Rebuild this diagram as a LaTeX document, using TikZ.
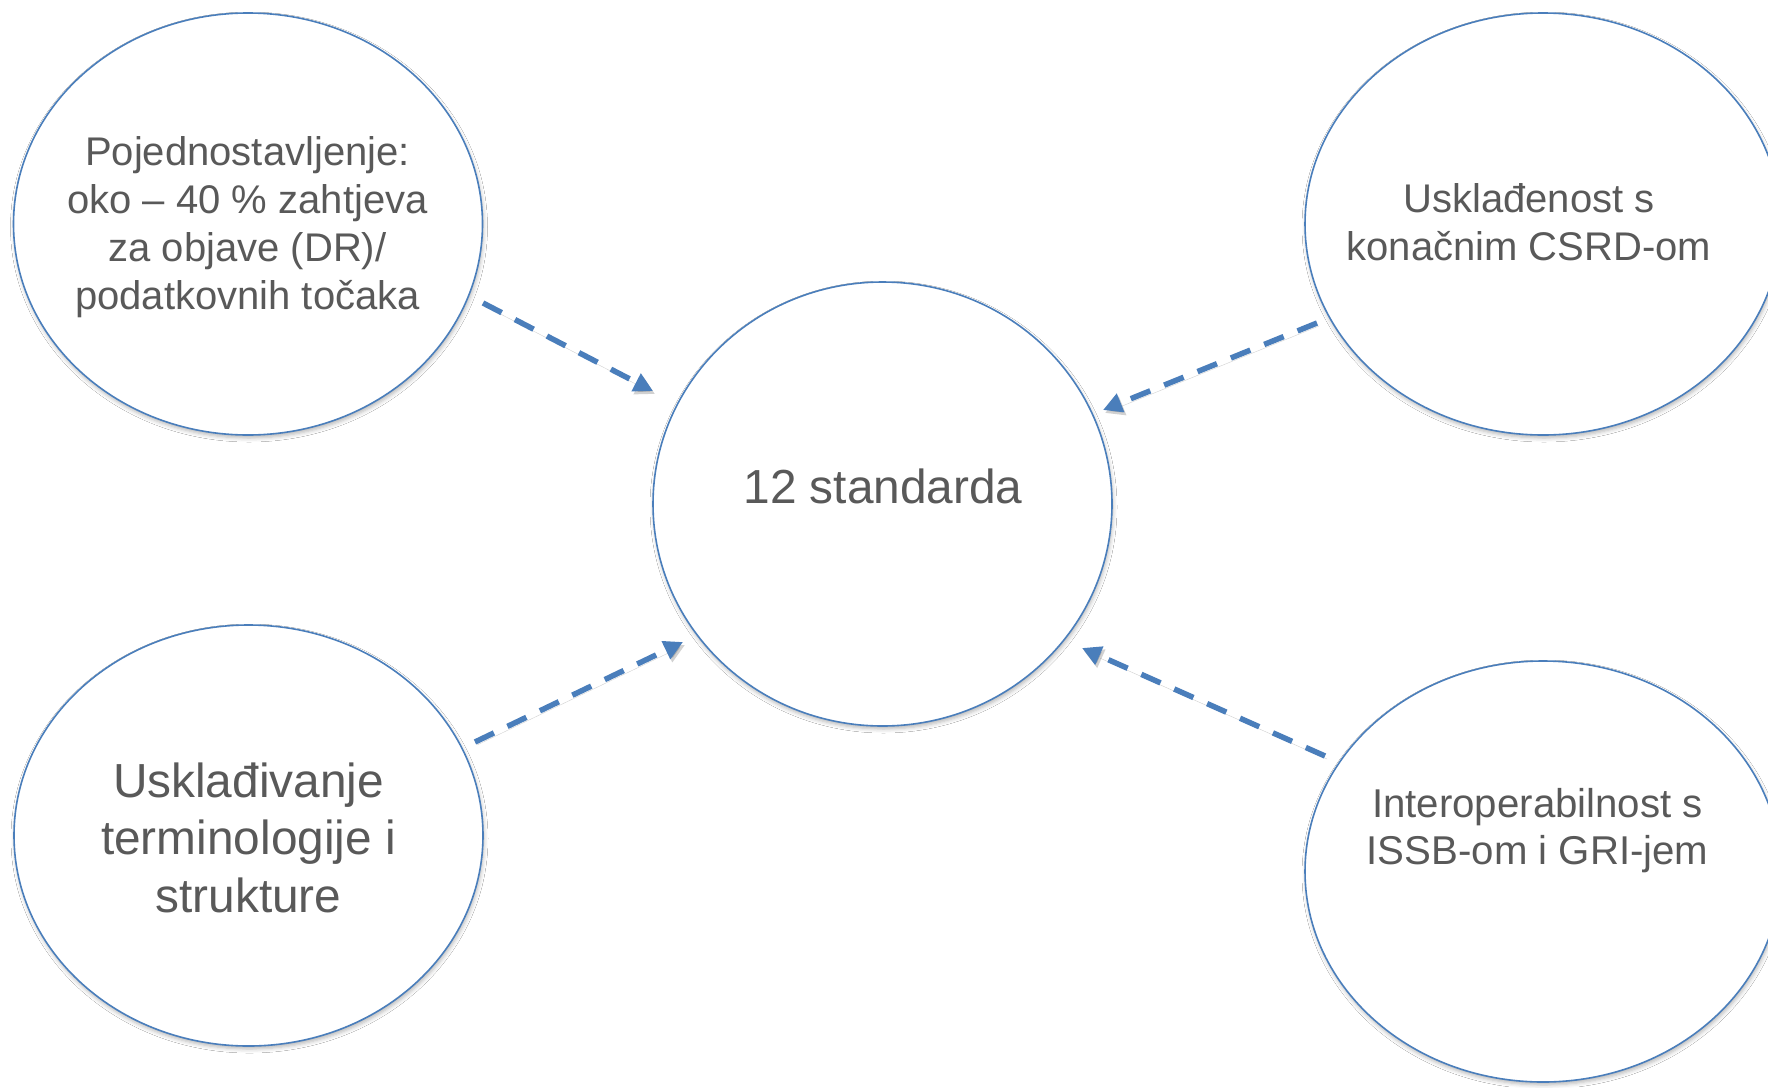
\documentclass[tikz,border=0pt]{standalone}
\usepackage{fontspec}
\setmainfont{Liberation Sans}
\usetikzlibrary{arrows.meta,shapes.geometric,shadows.blur}
\definecolor{edgeblue}{HTML}{4A7EBB}
\definecolor{txtgray}{HTML}{595959}
\tikzset{
  bubble/.style={ellipse, draw=edgeblue, line width=1.6pt, fill=white, inner sep=0pt,
    blur shadow={shadow xshift=1pt, shadow yshift=-3pt, shadow blur radius=4pt, shadow opacity=28}},
  lbl/.style={text=txtgray, align=center, inner sep=0pt, anchor=base},
  conn/.style={draw=edgeblue, line width=5.5pt, dash pattern=on 21pt off 15pt,
    -{Triangle[length=19pt,width=19pt]},
    preaction={draw=black, opacity=0.18, transform canvas={xshift=2pt,yshift=-3pt}}}
}
\begin{document}
\begin{tikzpicture}[x=1pt,y=-1pt]
\useasboundingbox[fill=white] (0,0) rectangle (1768,1087);
% ellipses
\node[bubble, minimum width=469pt, minimum height=422pt] (tl) at (248,224) {};
\node[bubble, minimum width=476pt, minimum height=422pt] (tr) at (1543,224) {};
\node[bubble, minimum width=459pt, minimum height=444pt] (c) at (882.5,504) {};
\node[bubble, minimum width=469pt, minimum height=421pt] (bl) at (248.5,835.5) {};
\node[bubble, minimum width=476pt, minimum height=421pt] (br) at (1543,871.5) {};
% texts (anchor base = baseline of the last line)
\node[lbl, font=\fontsize{40}{47.7}\selectfont] (tlt) at (247.5,309)
  {Pojednostavljenje:\\oko – 40 \% zahtjeva\\za objave (DR)/\\podatkovnih točaka};
\node[lbl, font=\fontsize{40}{48}\selectfont] (trt) at (1529,260)
  {Usklađenost s\\konačnim CSRD-om};
\node[lbl, font=\fontsize{47.8}{56}\selectfont] (ct) at (883,503) {12 standarda};
\node[lbl, font=\fontsize{47.8}{57.5}\selectfont] (blt) at (248.5,912)
  {Usklađivanje\\terminologije i\\strukture};
\node[lbl, font=\fontsize{40.2}{47}\selectfont] (brt) at (1537.5,864)
  {Interoperabilnost s\\ISSB-om i GRI-jem};
% connector end points
\coordinate (a1s) at (483,303);  \coordinate (a1e) at (653,391);
\coordinate (a2s) at (1317,323); \coordinate (a2e) at (1103,410);
\coordinate (a3s) at (475,742);  \coordinate (a3e) at (683,642);
\coordinate (a4s) at (1325,756); \coordinate (a4e) at (1082,648);
\draw[conn] (a1s) -- (a1e);
\draw[conn] (a2s) -- (a2e);
\draw[conn] (a3s) -- (a3e);
\draw[conn] (a4s) -- (a4e);
\end{tikzpicture}
\end{document}
